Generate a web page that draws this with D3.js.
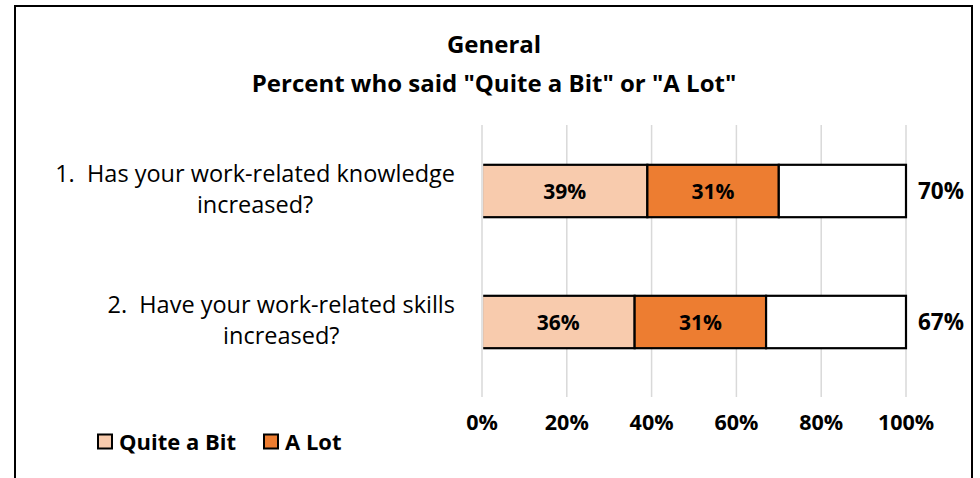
<!DOCTYPE html>
<html>
<head>
<meta charset="utf-8">
<script src="https://cdn.jsdelivr.net/npm/d3@7"></script>
<style>
  body { margin: 0; background: #fff; }
  svg text { font-family: "Open Sans", sans-serif; fill: #000; white-space: pre; }
</style>
</head>
<body>
<div id="chart"></div>
<script>
// data
const categories = [
    ['1.  Has your work-related knowledge', 'increased?'],
    ['2.  Have your work-related skills', 'increased?']
]
const quiteABit = [39, 36]
const aLot = [31, 31]
const totals = [70, 67]
const ticks = [0, 20, 40, 60, 80, 100]
const seriesNames = ['Quite a Bit', 'A Lot']
const seriesColors = ['#F8CBAD', '#ED7D31']
const titleLines = ['General', 'Percent who said "Quite a Bit" or "A Lot"']

const width = 980
const height = 478

const svg = d3.select('#chart').append('svg')
    .attr('width', width)
    .attr('height', height)

// outer frame (bottom edge runs past the picture)
svg.append('rect')
    .attr('x', 15)
    .attr('y', 6)
    .attr('width', 957)
    .attr('height', 500)
    .attr('fill', 'none')
    .attr('stroke', '#000')
    .attr('stroke-width', 2)

const x = d3.scaleLinear().domain([0, 100]).range([482, 906])
const y = d3.scaleBand()
    .domain(d3.range(categories.length))
    .range([125.5, 387.5])
    .paddingInner(0.6)
    .paddingOuter(0.3)

// title
svg.append('g')
    .selectAll('text')
    .data(titleLines)
    .enter()
    .append('text')
    .attr('x', 494)
    .attr('y', (d, i) => 53 + i * 39)
    .attr('text-anchor', 'middle')
    .attr('font-size', '24px')
    .attr('font-weight', 'bold')
    .text(d => d)

// gridlines
svg.append('g')
    .selectAll('line')
    .data(ticks)
    .enter()
    .append('line')
    .attr('x1', d => x(d))
    .attr('x2', d => x(d))
    .attr('y1', 125)
    .attr('y2', 397)
    .attr('stroke', '#d9d9d9')
    .attr('stroke-width', 1.5)

// tick labels
svg.append('g')
    .selectAll('text')
    .data(ticks)
    .enter()
    .append('text')
    .attr('x', d => x(d))
    .attr('y', 430)
    .attr('text-anchor', 'middle')
    .attr('font-size', '21.5px')
    .attr('font-weight', 'bold')
    .text(d => d + '%')

// stacked segments: quite a bit, a lot, remainder
const rows = categories.map((c, i) => {
    const a = quiteABit[i], b = aLot[i]
    return [
        { i, x0: 0, x1: a, fill: seriesColors[0], label: a + '%' },
        { i, x0: a, x1: a + b, fill: seriesColors[1], label: b + '%' },
        { i, x0: a + b, x1: 100, fill: '#fff', label: '' }
    ]
}).flat()

svg.append('defs').append('clipPath')
    .attr('id', 'plotClip')
    .append('rect')
    .attr('x', x(0) + 1.2)
    .attr('y', 0)
    .attr('width', width)
    .attr('height', height)

const bars = svg.append('g').attr('clip-path', 'url(#plotClip)')
bars.selectAll('rect')
    .data(rows)
    .enter()
    .append('rect')
    .attr('x', d => x(d.x0))
    .attr('y', d => y(d.i))
    .attr('width', d => x(d.x1) - x(d.x0))
    .attr('height', y.bandwidth())
    .attr('fill', d => d.fill)
    .attr('stroke', '#000')
    .attr('stroke-width', 2.2)

svg.append('g')
    .selectAll('text')
    .data(rows.filter(d => d.label))
    .enter()
    .append('text')
    .attr('x', d => (x(d.x0) + x(d.x1)) / 2)
    .attr('y', d => y(d.i) + y.bandwidth() / 2 + 8)
    .attr('text-anchor', 'middle')
    .attr('font-size', '21px')
    .attr('font-weight', 'bold')
    .text(d => d.label)

// totals
svg.append('g')
    .selectAll('text')
    .data(totals)
    .enter()
    .append('text')
    .attr('x', x(100) + 12)
    .attr('y', (d, i) => y(i) + y.bandwidth() / 2 + 8)
    .attr('font-size', '22.5px')
    .attr('font-weight', 'bold')
    .text(d => d + '%')

// category labels, wrapped lines centred on each other
const catG = svg.append('g')
categories.forEach((lines, i) => {
    const g = catG.append('g')
    const cy = y(i) + y.bandwidth() / 2
    const t = g.selectAll('text')
        .data(lines)
        .enter()
        .append('text')
        .attr('y', (d, j) => cy - 9 + j * 31)
        .attr('font-size', '23.5px')
        .text(d => d)
    const widths = t.nodes().map(n => n.getComputedTextLength())
    const maxW = d3.max(widths)
    const right = 455
    t.attr('x', (d, j) => right - maxW / 2 - widths[j] / 2)
})

// legend
const legend = svg.append('g')
let lx = 97
seriesNames.forEach((name, i) => {
    legend.append('rect')
        .attr('x', lx + 1)
        .attr('y', 434.5)
        .attr('width', 14)
        .attr('height', 14)
        .attr('fill', seriesColors[i])
        .attr('stroke', '#000')
        .attr('stroke-width', 2)
    const t = legend.append('text')
        .attr('x', lx + 22)
        .attr('y', 450)
        .attr('font-size', '22px')
        .attr('font-weight', 'bold')
        .text(name)
    lx += 22 + t.node().getComputedTextLength() + 27
})
</script>
</body>
</html>
